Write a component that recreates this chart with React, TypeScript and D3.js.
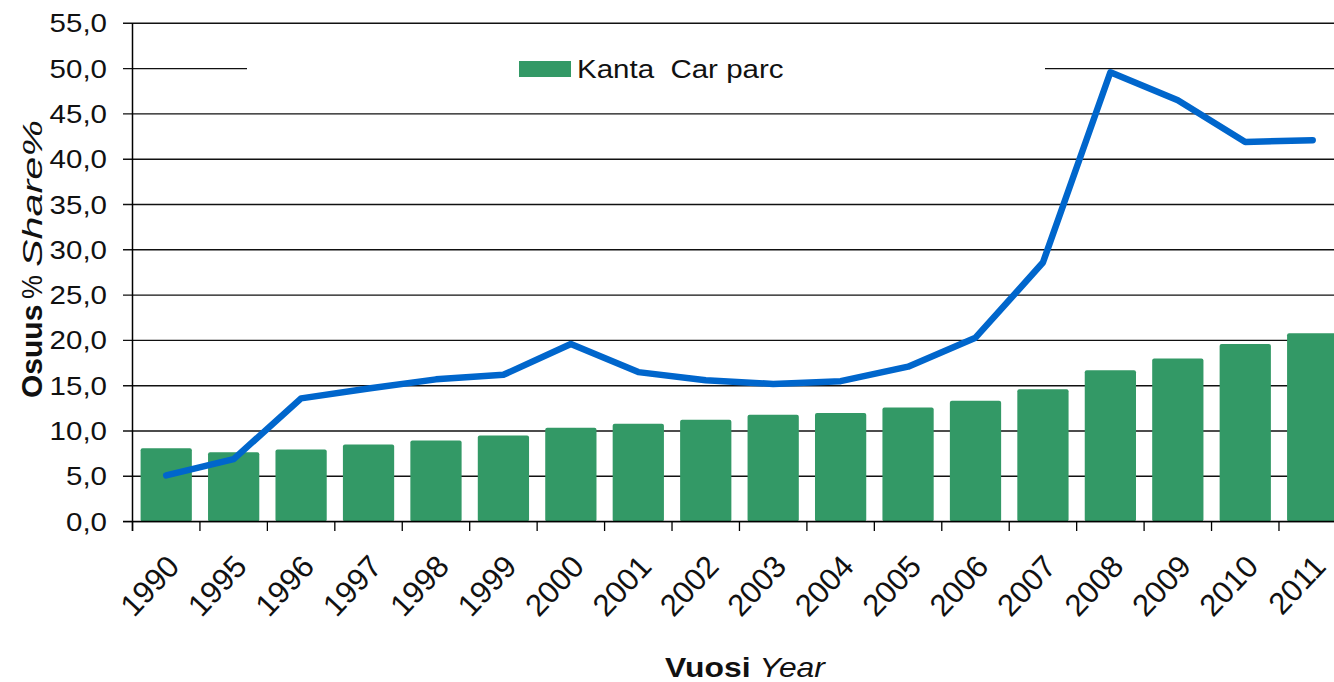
import React, { useRef, useEffect } from 'react';
import { select, scaleBand, scaleLinear, line, range } from 'd3';

const years = ['1990', '1995', '1996', '1997', '1998', '1999', '2000', '2001', '2002', '2003', '2004', '2005', '2006', '2007', '2008', '2009', '2010', '2011'];
// Kanta / Car parc (bars)
const carParc = [8.1, 7.65, 7.95, 8.5, 8.95, 9.5, 10.35, 10.8, 11.25, 11.8, 12.0, 12.6, 13.35, 14.6, 16.7, 18.0, 19.6, 20.8];
// Share of first registrations (line)
const shareLine = [5.1, 6.9, 13.6, 14.7, 15.7, 16.2, 19.6, 16.5, 15.6, 15.2, 15.5, 17.1, 20.3, 28.6, 49.6, 46.5, 41.9, 42.1];
const yTicks = range(0, 56, 5);

const W = 1334;
const H = 682;
const FONT = 'Liberation Sans, Arial, sans-serif';
const SX = 1.18; // the source picture is stretched horizontally

function App() {
  const svgRef = useRef<SVGSVGElement>(null);

  useEffect(() => {
    const svg = select(svgRef.current);
    svg.selectAll('*').remove();

    const x0 = 132.5;
    const step = 67.44;
    const xScale = scaleBand<string>()
      .domain(years)
      .range([x0, x0 + step * years.length])
      .padding(0);
    const yScale = scaleLinear().domain([0, 55]).range([521.6, 23.3]);

    // gridlines + y ticks
    svg
      .selectAll('.grid')
      .data(yTicks)
      .join('line')
      .attr('class', 'grid')
      .attr('x1', 123)
      .attr('x2', W)
      .attr('y1', d => yScale(d))
      .attr('y2', d => yScale(d))
      .attr('stroke', '#111')
      .attr('stroke-width', 1.4);

    // y tick labels
    svg
      .selectAll('.ylab')
      .data(yTicks)
      .join('text')
      .attr('class', 'ylab')
      .attr('transform', d => `translate(107,${yScale(d)}) scale(${SX},1)`)
      .attr('dy', '0.36em')
      .attr('text-anchor', 'end')
      .style('font', `25px ${FONT}`)
      .attr('fill', '#111')
      .text(d => d.toFixed(1).replace('.', ','));

    // bars
    const bw = xScale.bandwidth() * 0.76;
    svg
      .selectAll('.bar')
      .data(carParc)
      .join('rect')
      .attr('class', 'bar')
      .attr('x', (d, i) => xScale(years[i])! + (xScale.bandwidth() - bw) / 2)
      .attr('width', bw)
      .attr('y', d => yScale(d))
      .attr('height', d => yScale(0) - yScale(d))
      .attr('rx', 2)
      .attr('fill', '#339966');

    // axes
    svg.append('line')
      .attr('x1', x0).attr('x2', x0)
      .attr('y1', yScale(55)).attr('y2', 531)
      .attr('stroke', '#000').attr('stroke-width', 1.5);
    svg.append('line')
      .attr('x1', 123).attr('x2', W)
      .attr('y1', yScale(0)).attr('y2', yScale(0))
      .attr('stroke', '#000').attr('stroke-width', 1.5);

    // x ticks at band edges
    svg
      .selectAll('.xtick')
      .data(range(years.length + 1))
      .join('line')
      .attr('class', 'xtick')
      .attr('x1', i => x0 + i * step)
      .attr('x2', i => x0 + i * step)
      .attr('y1', yScale(0))
      .attr('y2', 531)
      .attr('stroke', '#000')
      .attr('stroke-width', 1.3);

    // x tick labels
    svg
      .selectAll('.xlab')
      .data(years)
      .join('text')
      .attr('class', 'xlab')
      .attr('transform', d => `translate(${xScale(d)! + xScale.bandwidth() / 2 - 1},553) rotate(-47)`)
      .attr('dy', '0.7em')
      .attr('text-anchor', 'end')
      .style('font', `31px ${FONT}`)
      .attr('fill', '#111')
      .text(d => d);

    // line
    const lineGen = line<number>()
      .x((d, i) => xScale(years[i])! + xScale.bandwidth() / 2)
      .y(d => yScale(d));
    svg.append('path')
      .datum(shareLine)
      .attr('d', lineGen)
      .attr('fill', 'none')
      .attr('stroke', '#0066cc')
      .attr('stroke-width', 6.5)
      .attr('stroke-linejoin', 'round')
      .attr('stroke-linecap', 'round');

    // legend (white box hides the 50 gridline)
    svg.append('rect')
      .attr('x', 247).attr('y', 45).attr('width', 798).attr('height', 48)
      .attr('fill', '#fff');
    svg.append('rect')
      .attr('x', 519).attr('y', 61).attr('width', 52).attr('height', 16)
      .attr('fill', '#339966');
    svg.append('text')
      .attr('transform', `translate(577,78) scale(${SX},1)`)
      .style('font', `25px ${FONT}`)
      .attr('fill', '#111')
      .attr('xml:space', 'preserve')
      .text('Kanta  Car parc');

    // x title
    const xt = svg.append('text')
      .attr('transform', `translate(745,677) scale(${SX},1)`)
      .attr('text-anchor', 'middle')
      .style('font-family', FONT)
      .style('font-size', '27px')
      .attr('fill', '#111');
    xt.append('tspan').style('font-weight', 'bold').text('Vuosi ');
    xt.append('tspan').style('font-style', 'italic').text('Year');

    // y title
    const yt = svg.append('text')
      .attr('transform', `translate(42,398) rotate(-90)`)
      .style('font-family', FONT)
      .attr('fill', '#111');
    yt.append('tspan').style('font-weight', 'bold').style('font-size', '30px').text('Osuus');
    yt.append('tspan').attr('x', 99).style('font-size', '30px')
      .attr('textLength', 24).attr('lengthAdjust', 'spacingAndGlyphs').text('%');
    yt.append('tspan')
      .attr('x', 131)
      .style('font-style', 'italic')
      .style('font-size', '28px')
      .attr('textLength', 147)
      .attr('lengthAdjust', 'spacingAndGlyphs')
      .text('Share%');
  }, []);

  return (
    <svg
      ref={svgRef}
      width={W}
      height={H}
      style={{ position: 'absolute', left: 0, top: 0, background: '#fff' }}
    ></svg>
  );
}

export default App;
